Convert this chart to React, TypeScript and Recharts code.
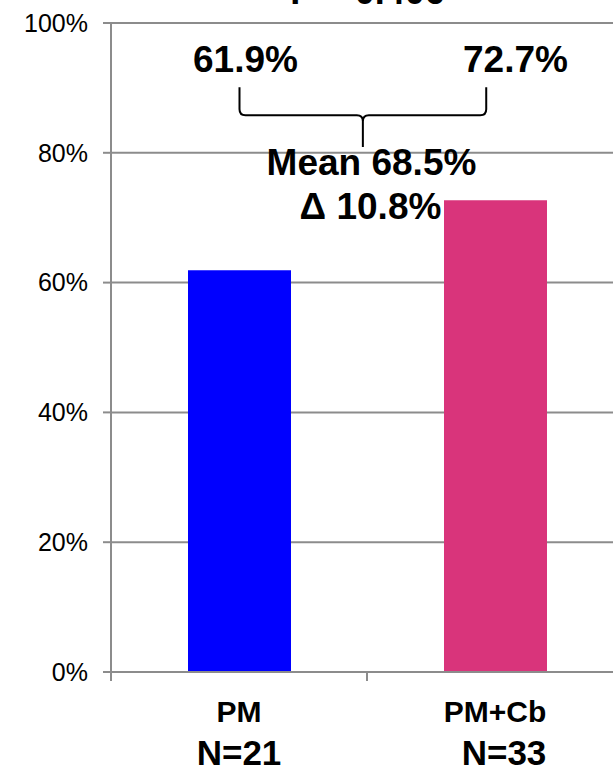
import { BarChart, Bar, XAxis, YAxis, CartesianGrid, LabelList, Cell } from "recharts";

const groups = ["PM", "PM+Cb"];
const sampleSizes = ["N=21", "N=33"];
const responseRates = [61.9, 72.7];
const barColors = ["#0000ff", "#d9347b"];
const yTicks = [0, 20, 40, 60, 80, 100];
const titleText = "P = 0.406";
const meanText = "Mean 68.5%";
const deltaText = "Δ 10.8%";

const data = groups.map((group, i) => ({ group, rate: responseRates[i] }));

const FONT = "'Liberation Sans', Arial, sans-serif";
const GRID = "#8c8c8c";

// bar centres collected while labels render (index 0 comes first)
const centers: number[] = [];

function Annotation(props: any) {
  const { viewBox, value, index } = props;
  const { x, y, width, height } = viewBox;
  const base = y + height;
  const k = height / value;
  const py = (v: number) => base - v * k;
  const cx = x + width / 2;
  centers[index] = cx;

  const valueLabel = (
    <text
      x={cx + (index ? 20 : 6)}
      y={py(92.4)}
      textAnchor="middle"
      fontFamily={FONT}
      fontWeight="bold"
      fontSize={37}
      fill="#000"
    >
      {value}%
    </text>
  );
  if (index !== 1) return valueLabel;

  const xL = centers[0];
  const xR = cx - width * 0.09;
  const xm = (xL + xR) / 2;
  const yTop = py(90.1);
  const yBot = py(85.8);
  const yTip = py(80.9);
  const r = 6;
  const brace =
    `M${xL},${yTop} L${xL},${yBot - r} Q${xL},${yBot} ${xL + r},${yBot} L${xm - r},${yBot} Q${xm},${yBot} ${xm},${yBot + r} L${xm},${yTip} ` +
    `M${xm},${yBot + r} Q${xm},${yBot} ${xm + r},${yBot} L${xR - r},${yBot} Q${xR},${yBot} ${xR},${yBot - r} L${xR},${yTop}`;
  const mid = (xL + cx) / 2;

  return (
    <g>
      {valueLabel}
      <path d={brace} fill="none" stroke="#000" strokeWidth={2} />
      <text x={mid + 4} y={py(76.6)} textAnchor="middle" fontFamily={FONT} fontWeight="bold" fontSize={37} fill="#000">
        {meanText}
      </text>
      <text x={mid + 3} y={py(69.8)} textAnchor="middle" fontFamily={FONT} fontWeight="bold" fontSize={37} fill="#000">
        {deltaText}
      </text>
      <text x={mid} y={py(102.9)} textAnchor="middle" fontFamily={FONT} fontWeight="bold" fontSize={36} fill="#000">
        {titleText}
      </text>
    </g>
  );
}

function GroupTick(props: any) {
  const { x, y, payload, index } = props;
  const half = payload.offset ?? 0;
  return (
    <g>
      <line x1={x - half} y1={y} x2={x - half} y2={y + 9} stroke={GRID} strokeWidth={2} />
      <line x1={x + half} y1={y} x2={x + half} y2={y + 9} stroke={GRID} strokeWidth={2} />
      <text x={x} y={y + 50} textAnchor="middle" fontFamily={FONT} fontWeight="bold" fontSize={30} fill="#000">
        {payload.value}
      </text>
      <text x={x + (index ? 9 : 0)} y={y + 93} textAnchor="middle" fontFamily={FONT} fontWeight="bold" fontSize={35} fill="#000">
        {sampleSizes[index]}
      </text>
    </g>
  );
}

export default function App() {
  return (
    <div style={{ position: "absolute", left: 0, top: 0, width: 613, height: 771, overflow: "hidden", background: "#fff" }}>
      <BarChart width={630} height={771} data={data} margin={{ top: 23, right: 7, bottom: 0, left: 0 }}>
        <CartesianGrid vertical={false} stroke={GRID} strokeWidth={2} />
        <XAxis
          dataKey="group"
          height={99}
          tickSize={0}
          tickMargin={0}
          tickLine={false}
          axisLine={{ stroke: GRID, strokeWidth: 2 }}
          tick={<GroupTick />}
          interval={0}
        />
        <YAxis
          domain={[0, 100]}
          ticks={yTicks}
          width={111}
          tickSize={8}
          tickMargin={15}
          tickFormatter={(v) => `${v}%`}
          axisLine={{ stroke: GRID, strokeWidth: 2 }}
          tickLine={{ stroke: GRID, strokeWidth: 2 }}
          tick={{ fontFamily: FONT, fontSize: 25, fill: "#000" }}
        />
        <Bar dataKey="rate" barSize={103} isAnimationActive={false}>
          {data.map((d, i) => (
            <Cell key={d.group} fill={barColors[i]} />
          ))}
          <LabelList dataKey="rate" content={<Annotation />} />
        </Bar>
      </BarChart>
    </div>
  );
}
